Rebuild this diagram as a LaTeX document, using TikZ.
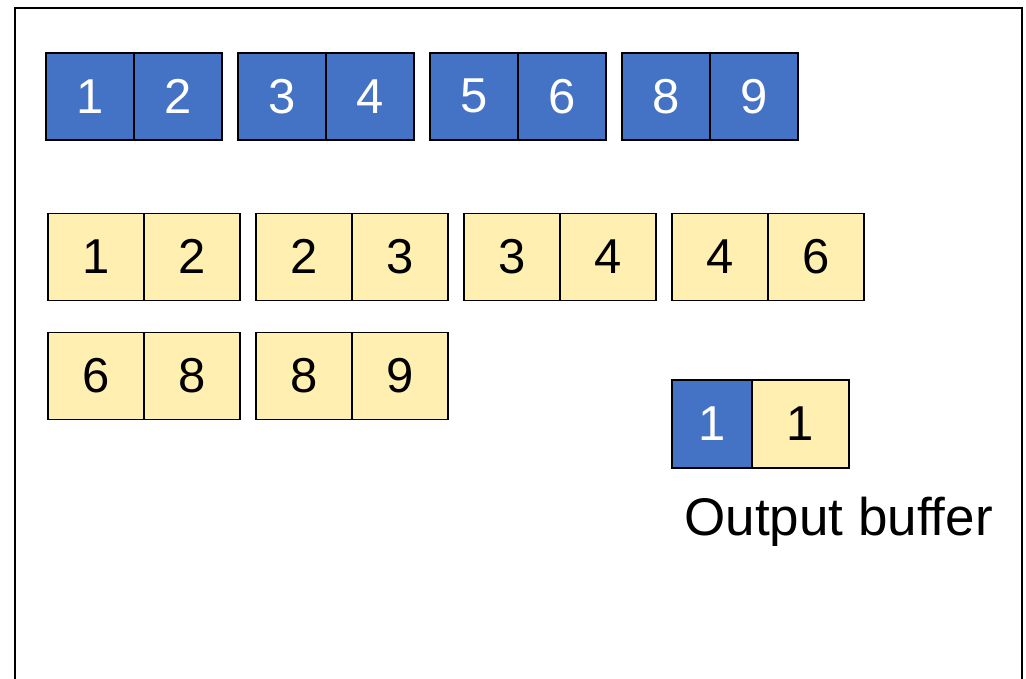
\documentclass[tikz,border=0pt]{standalone}
\usepackage{fontspec}
\setmainfont{Liberation Sans}
\definecolor{cellblue}{HTML}{4472C4}
\definecolor{cellyellow}{HTML}{FFEFB0}
\begin{document}
\begin{tikzpicture}[x=1pt,y=-1pt,
  cell/.style={draw=black,line width=1.5pt,inner sep=0pt,minimum height=87pt,anchor=north west,font=\fontsize{49}{56}\selectfont},
  bluecell/.style={cell,fill=cellblue,text=white,minimum width=88pt},
  yelcell/.style={cell,fill=cellyellow,text=black,minimum width=96pt},
  frameline/.style={draw=black,line width=2pt}]
\useasboundingbox (0,0) rectangle (1026,678);
% frame
\coordinate (fbl) at (15,679);
\coordinate (ftl) at (15,8);
\coordinate (ftr) at (1022,8);
\coordinate (fbr) at (1022,679);
\draw[frameline] (fbl) -- (ftl) -- (ftr) -- (fbr);
% blue row
\foreach \x/\a/\b [count=\i] in {45/1/2,237/3/4,429/5/6,621/8/9}{
  \node[bluecell] (b\i a) at (\x,52) {\a};
  \node[bluecell] (b\i b) at (\x+88,52) {\b};
}
% yellow rows
\foreach \x/\a/\b [count=\i] in {47/1/2,255/2/3,463/3/4,671/4/6}{
  \node[yelcell] (y\i a) at (\x,212.5) {\a};
  \node[yelcell] (y\i b) at (\x+96,212.5) {\b};
}
\foreach \x/\a/\b [count=\i] in {47/6/8,255/8/9}{
  \node[yelcell] (z\i a) at (\x,331.5) {\a};
  \node[yelcell] (z\i b) at (\x+96,331.5) {\b};
}
% output buffer
\node[bluecell,minimum width=80pt,minimum height=88pt] (ob) at (671,379) {1};
\node[yelcell,minimum width=97pt,minimum height=88pt] (oy) at (751,379) {1};
\node[anchor=base,inner sep=0pt,font=\fontsize{53}{60}\selectfont] (label) at (838.5,535) {Output buffer};
\end{tikzpicture}
\end{document}
